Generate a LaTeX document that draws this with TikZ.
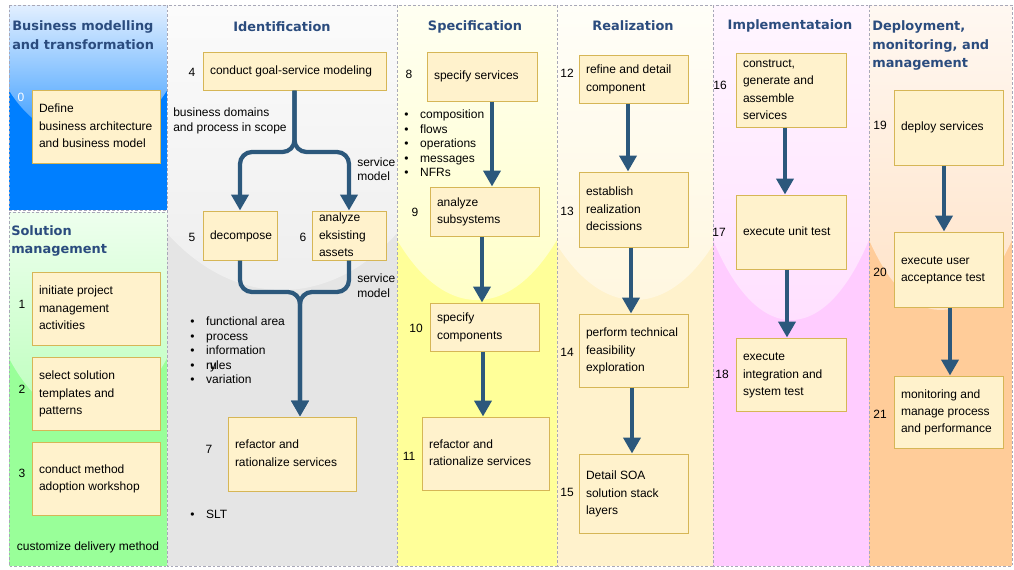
\documentclass[tikz,border=0pt]{standalone}
\usepackage{fontspec}
\setmainfont{Liberation Sans}
\newfontfamily\ttlfont{DejaVu Sans}
\usetikzlibrary{arrows.meta}
\definecolor{boxfill}{HTML}{FFF2CC}
\definecolor{boxline}{HTML}{D6B656}
\definecolor{titleblue}{HTML}{2B4C7E}
\definecolor{arrowc}{HTML}{2C587C}
\definecolor{lanegray}{HTML}{A8A8B8}
\definecolor{blueB}{HTML}{007FFF}\definecolor{blueT}{HTML}{E2EFFF}\definecolor{blueM}{HTML}{3399FF}
\definecolor{greenB}{HTML}{99FF99}\definecolor{greenT}{HTML}{EEFFEE}\definecolor{greenM}{HTML}{BBFFBB}
\definecolor{greyB}{HTML}{E5E5E5}\definecolor{greyT}{HTML}{FBFBFB}\definecolor{greyM}{HTML}{EEEEEE}
\definecolor{yelB}{HTML}{FFFF99}\definecolor{yelT}{HTML}{FFFFF2}\definecolor{yelM}{HTML}{FFFFC8}
\definecolor{crB}{HTML}{FFF2CC}\definecolor{crT}{HTML}{FFFEF8}\definecolor{crM}{HTML}{FFF7E0}
\definecolor{pkB}{HTML}{FFCCFF}\definecolor{pkT}{HTML}{FFF6FF}\definecolor{pkM}{HTML}{FFE0FF}
\definecolor{peB}{HTML}{FFCC99}\definecolor{peT}{HTML}{FFF8F2}\definecolor{peM}{HTML}{FFE3C8}

% lane: x0 y0 x1 y1 bottom top mid xradius(pt) yradius(pt)
\newcommand\mylane[9]{%
  \begin{scope}
    \clip (#1,#2) rectangle (#3,#4);
    \fill[#5] (#1,#2) rectangle (#3,#4);
    \shade[top color=#6, bottom color=#7, middle color=#6] ({(#1+#3)/2},#2) ellipse [x radius=#8pt, y radius=#9pt];
  \end{scope}
  \draw[lane] (#1,#2) rectangle (#3,#4);}

% box: name x0 y0 x1 y1 text
\newcommand\bx[6]{%
  \pgfmathsetmacro\bxw{(#4-#2)*0.75}%
  \pgfmathsetmacro\bxh{(#5-#3)*0.75}%
  \pgfmathsetmacro\bxt{(#4-#2-14)*0.75}%
  \node[box, minimum width=\bxw pt, minimum height=\bxh pt] (#1) at ({(#2+#4)/2},{(#3+#5)/2})
    {\makebox[\bxt pt][l]{\smash{\raisebox{-2.25pt}{\begin{tabular}{@{}l@{}}#6\end{tabular}}}}};}

\begin{document}
\begin{tikzpicture}[x=0.75pt,y=-0.75pt,
  box/.style={draw=boxline, fill=boxfill, line width=0.75pt, inner xsep=5.25pt, inner ysep=0pt,
    font={\fontsize{9}{13.1}\selectfont}},
  num/.style={inner sep=0pt, font={\fontsize{9}{10.9}\selectfont}},
  lbl/.style={inner sep=0pt, align=left, anchor=west, font={\fontsize{9}{10.9}\selectfont}},
  ttl/.style={inner sep=0pt, text=titleblue, font={\ttlfont\bfseries\fontsize{9.7}{13.8}\selectfont}},
  flow/.style={draw=arrowc, line width=3.2pt, -{Triangle[width=12.75pt,length=12pt]}},
  brace/.style={flow, rounded corners=9pt},
  lane/.style={draw=lanegray, dashed, dash pattern=on 2pt off 1.5pt, line width=0.5pt}]

\fill[white] (0,0) rectangle (1014,569);
\useasboundingbox (0,0) rectangle (1014,569);

% lanes
\mylane{9}{5}{167}{210}{blueB}{blueT}{blueM}{76.5}{101.25}
\mylane{9}{212}{167}{566}{greenB}{greenT}{greenM}{83.25}{156}
\mylane{167}{5}{397}{566}{greyB}{greyT}{greyM}{144}{213.75}
\mylane{397}{5}{557}{566}{yelB}{yelT}{yelM}{99}{221.25}
\mylane{557}{5}{713}{566}{crB}{crT}{crM}{100.5}{221.25}
\mylane{713}{5}{869}{566}{pkB}{pkT}{pkM}{87.75}{236.25}
\mylane{869}{5}{1012}{566}{peB}{peT}{peM}{84}{228.75}

% titles
\node[ttl, align=left, anchor=west] (t1) at (12,35) {Business modelling\\and transformation};
\node[ttl, align=left, anchor=west] (t2) at (11,241) {Solution\\management};
\node[ttl] (t3) at (282,27) {Identification};
\node[ttl] (t4) at (475,27) {Specification};
\node[ttl] (t5) at (633,26) {Realization};
\node[ttl] (t6) at (790,26) {Implementataion};
\node[ttl, align=left, anchor=west] (t7) at (872,45.5) {Deployment,\\monitoring, and\\management};

% boxes
\bx{b0}{32}{90}{160}{163}{Define\\business architecture\\and business model}
\bx{b1}{32}{272}{160}{345}{initiate project\\management\\activities}
\bx{b2}{32}{357}{160}{430}{select solution\\templates and\\patterns}
\bx{b3}{32}{442}{160}{515}{conduct method\\adoption workshop}
\bx{b4}{203}{52}{386}{90}{conduct goal-service modeling}
\bx{b5}{203}{211}{277}{260}{decompose}
\bx{b6}{312}{211}{386}{260}{analyze\\eksisting\\assets}
\bx{b7}{228}{417}{356}{491}{refactor and\\rationalize services}
\bx{b8}{427}{52}{537}{101}{specify services}
\bx{b9}{430}{187}{539}{236}{analyze\\subsystems}
\bx{b10}{430}{303}{539}{351}{specify\\components}
\bx{b11}{422}{417}{549}{490}{refactor and\\rationalize services}
\bx{b12}{579}{55}{688}{103}{refine and detail\\component}
\bx{b13}{579}{172}{688}{247}{establish\\realization\\decissions}
\bx{b14}{579}{314}{688}{387}{perform technical\\feasibility\\exploration}
\bx{b15}{579}{454}{688}{533}{Detail SOA\\solution stack\\layers}
\bx{b16}{736}{53}{846}{127}{construct,\\generate and\\assemble\\services}
\bx{b17}{736}{195}{846}{269}{execute unit test}
\bx{b18}{736}{338}{846}{411}{execute\\integration and\\system test}
\bx{b19}{894}{90}{1003}{165}{deploy services}
\bx{b20}{894}{232}{1003}{307}{execute user\\acceptance test}
\bx{b21}{894}{376}{1003}{448}{monitoring and\\manage process\\and performance}

% step numbers
\node[num, text=white] (n0) at (21,97) {0};
\node[num] (n1) at (22,304) {1};
\node[num] (n2) at (22,389) {2};
\node[num] (n3) at (22,473) {3};
\node[num] (n4) at (192,72) {4};
\node[num] (n5) at (192,237) {5};
\node[num] (n6) at (303,237) {6};
\node[num] (n7) at (209,449) {7};
\node[num] (n8) at (409,74) {8};
\node[num] (n9) at (415,212) {9};
\node[num] (n10) at (416,328) {10};
\node[num] (n11) at (409,456) {11};
\node[num] (n12) at (567,73) {12};
\node[num] (n13) at (567,211) {13};
\node[num] (n14) at (567,352) {14};
\node[num] (n15) at (567,492) {15};
\node[num] (n16) at (720,85) {16};
\node[num] (n17) at (719,232) {17};
\node[num] (n18) at (722,374) {18};
\node[num] (n19) at (880,125) {19};
\node[num] (n20) at (880,272) {20};
\node[num] (n21) at (880,414) {21};

% other labels
\node[num] (cdm) at (88,547) {customize delivery method};
\node[lbl] (bdp) at (173,121) {business domains\\and process in scope};
\node[lbl] (sm1) at (357,169) {service\\model};
\node[lbl] (sm2) at (357,285.5) {service\\model};
\node[lbl] (bul1) at (190,352) {\begin{tabular}{@{}l@{\hspace{8.8pt}}l@{}}•&functional area\\•&process\\•&information\\•&r\rlap{u}yles\\•&variation\end{tabular}};
\node[lbl] (bul2) at (190,516) {\begin{tabular}{@{}l@{\hspace{8.8pt}}l@{}}•&SLT\end{tabular}};
\node[lbl] (bul3) at (404,145) {\begin{tabular}{@{}l@{\hspace{8.8pt}}l@{}}•&composition\\•&flows\\•&operations\\•&messages\\•&NFRs\end{tabular}};

% identification connectors
\draw[brace] (b4.south) -- (b4.south |- 0,152) -- (b5.north |- 0,152) -- (b5.north);
\draw[brace] (b4.south) -- (b4.south |- 0,152) -- (b6.north |- 0,152) -- (b6.north);
\draw[brace] (b5.south) -- (b5.south |- 0,292) -- (300,292) -- (b7.north -| 300,0);
\draw[brace] (b6.south) -- (b6.south |- 0,292) -- (300,292) -- (b7.north -| 300,0);

% flows
\draw[flow] (b8.south -| 492,0) -- (b9.north -| 492,0);
\draw[flow] (b9.south -| 482,0) -- (b10.north -| 482,0);
\draw[flow] (b10.south -| 483,0) -- (b11.north -| 483,0);
\draw[flow] (b12.south -| 628,0) -- (b13.north -| 628,0);
\draw[flow] (b13.south -| 631,0) -- (b14.north -| 631,0);
\draw[flow] (b14.south -| 632,0) -- (b15.north -| 632,0);
\draw[flow] (b16.south -| 785,0) -- (b17.north -| 785,0);
\draw[flow] (b17.south -| 787,0) -- (b18.north -| 787,0);
\draw[flow] (b19.south -| 944,0) -- (b20.north -| 944,0);
\draw[flow] (b20.south -| 950,0) -- (b21.north -| 950,0);
\end{tikzpicture}
\end{document}
